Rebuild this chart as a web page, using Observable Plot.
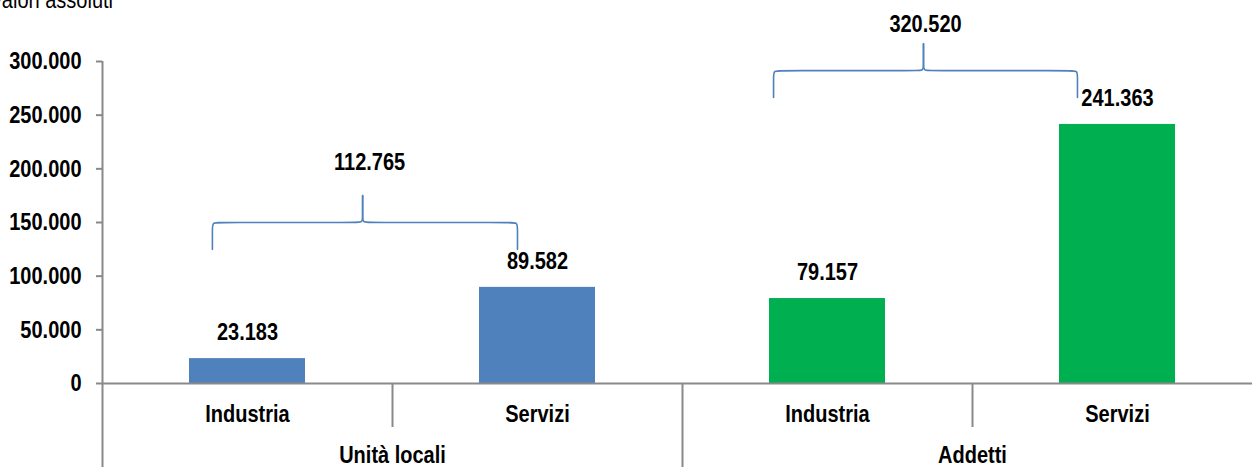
<!DOCTYPE html>
<html>
<head>
<meta charset="utf-8">
<script src="https://cdn.jsdelivr.net/npm/d3@7"></script>
<script src="https://cdn.jsdelivr.net/npm/@observablehq/plot@0.6"></script>
<style>
  html, body { margin: 0; padding: 0; background: #fff; overflow: hidden; width: 1252px; height: 467px; }
  #wrap { position: relative; width: 1252px; height: 467px; overflow: hidden; }
  #title { position: absolute; left: -10px; top: -12px; font: 20px/20px "Liberation Sans", Arial, sans-serif; color: #000; white-space: nowrap; z-index: 2; transform: scaleY(1.2); transform-origin: 0 0; }
  #chart { position: absolute; left: 0; top: 0; }
  #chart svg { max-width: none !important; height: 467px !important; }
</style>
</head>
<body>
<div id="wrap">
  <div id="title">Valori assoluti</div>
  <div id="chart"></div>
</div>
<script>
// ---- data ----
const groups = ["Unità locali", "Addetti"];
const sectors = ["Industria", "Servizi"];
const values = [23183, 89582, 79157, 241363];   // Unità locali: Ind, Serv ; Addetti: Ind, Serv
const totals = [112765, 320520];
const groupColors = ["#4F81BD", "#00B050"];
const yTicks = [0, 50000, 100000, 150000, 200000, 250000, 300000];

// brace annotations (x in category units, y in value units)
const braceStart = [0.379, 2.314];
const braceEnd = [1.431, 3.362];
const braceMid = [0.897, 2.831];
const braceLevel = [150000, 291500];
const braceLabelX = [0.921, 2.838];
const braceLabelY = [206000, 334500];

// ---- build ----
const fmt = d3.formatLocale({decimal: ",", thousands: ".", grouping: [3], currency: ["€", ""]}).format(",d");

const bars = values.map((v, i) => ({
  i, value: v,
  group: groups[Math.floor(i / 2)],
  sector: sectors[i % 2],
  color: groupColors[Math.floor(i / 2)]
}));

const dx = 0.021, dy = 6500, arm = 25000;
const bracePts = [];
braceStart.forEach((x0, k) => {
  const L = braceLevel[k], m = braceMid[k], x1 = braceEnd[k], peak = L + arm;
  const halves = [
    [[x0, L - arm], [x0, L - dy], [x0, L], [x0 + dx, L], [m - dx, L], [m, L], [m, L + dy], [m, peak]],
    [[x1, L - arm], [x1, L - dy], [x1, L], [x1 - dx, L], [m + dx, L], [m, L], [m, L + dy], [m, peak]]
  ];
  halves.forEach((h, j) => h.forEach(([x, y]) => bracePts.push({x, y, z: `${k}-${j}`})));
});
const braceLabels = totals.map((t, k) => ({x: braceLabelX[k], y: braceLabelY[k], text: fmt(t)}));

const gray = "#898989";
const FONT = "'Liberation Sans', Arial, sans-serif";
const FS = 20;
const chart = Plot.plot({
  width: 1262,
  height: 467,
  marginLeft: 102,
  marginRight: 0,
  marginTop: 61,
  marginBottom: 84,
  style: {fontFamily: FONT, fontSize: FS + "px", fontWeight: "bold", color: "#000", background: "transparent", overflow: "visible"},
  x: {type: "linear", domain: [0, 4]},
  y: {domain: [0, 300000]},
  marks: [
    Plot.rectY(bars, {x1: d => d.i + 0.3, x2: d => d.i + 0.7, y1: 0, y2: "value", fill: "color"}),
    Plot.ruleX([0], {stroke: gray, strokeWidth: 2}),
    Plot.ruleY([0], {stroke: gray, strokeWidth: 2}),
    Plot.axisY({ticks: yTicks, tickFormat: fmt, tickSize: 6, tickPadding: 15, stroke: gray, strokeWidth: 2, fontSize: FS, fontWeight: "bold", label: null}),
    // separators below the baseline
    Plot.axisX({ticks: [0, 2], tickSize: 86, tickFormat: () => "", stroke: gray, strokeWidth: 2, label: null}),
    Plot.axisX({ticks: [1, 3], tickSize: 44, tickFormat: () => "", stroke: gray, strokeWidth: 2, label: null}),
    // category & group labels
    Plot.axisX({ticks: [0.5, 1.5, 2.5, 3.5], tickSize: 0, tickPadding: 21, tickFormat: d => sectors[Math.floor(d) % 2], fontSize: FS, fontWeight: "bold", label: null}),
    Plot.axisX({ticks: [1, 3], tickSize: 0, tickPadding: 62, tickFormat: d => groups[Math.floor(d / 2)], fontSize: FS, fontWeight: "bold", label: null}),
    // value labels
    Plot.text(bars, {x: d => d.i + 0.5, y: "value", text: d => fmt(d.value), dy: -26, fontSize: FS, fontWeight: "bold", fill: "#000"}),
    // braces
    Plot.line(bracePts, {x: "x", y: "y", z: "z", curve: "basis", stroke: "#4F81BD", strokeWidth: 1.6}),
    Plot.text(braceLabels, {x: "x", y: "y", text: "text", fontSize: FS, fontWeight: "bold", fill: "#000"})
  ]
});
// the reference uses a tall, condensed face: stretch glyphs vertically around each label's anchor
chart.querySelectorAll("text").forEach(t => {
  const tr = t.getAttribute("transform");
  if (tr) t.setAttribute("transform", tr + " scale(1,1.2)");
  else {
    const x = +(t.getAttribute("x") || 0), y = +(t.getAttribute("y") || 0);
    t.setAttribute("x", 0); t.setAttribute("y", 0);
    t.setAttribute("transform", `translate(${x},${y}) scale(1,1.2)`);
  }
});
document.getElementById("chart").appendChild(chart);
</script>
</body>
</html>
